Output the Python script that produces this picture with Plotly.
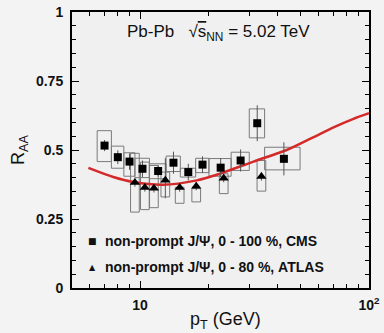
import plotly.graph_objects as go
import numpy as np

# CMS non-prompt J/psi, 0-100 %
cms_lo = [6.5, 7.5, 8.5, 9.5, 11, 13, 15, 17.5, 20, 25, 30, 35]
cms_hi = [7.5, 8.5, 9.5, 11, 13, 15, 17.5, 20, 25, 30, 35, 50]
cms_pt = [7.0, 8.0, 9.0, 10.25, 12.0, 14.0, 16.25, 18.75, 22.5, 27.5, 32.5, 42.5]
cms_raa = [0.516, 0.474, 0.458, 0.432, 0.424, 0.454, 0.420, 0.447, 0.436, 0.462, 0.597, 0.468]
cms_stat = [0.02, 0.025, 0.03, 0.03, 0.02, 0.04, 0.03, 0.03, 0.035, 0.04, 0.065, 0.06]
cms_sys_lo = [0.458, 0.434, 0.405, 0.400, 0.396, 0.422, 0.402, 0.418, 0.405, 0.426, 0.544, 0.428]
cms_sys_hi = [0.570, 0.514, 0.490, 0.470, 0.450, 0.478, 0.434, 0.470, 0.469, 0.492, 0.649, 0.510]

# ATLAS non-prompt J/psi, 0-80 %
atlas_pt = [9.5, 10.5, 11.5, 12.9, 14.9, 17.6, 23.2, 33.9]
atlas_raa = [0.382, 0.364, 0.361, 0.390, 0.364, 0.369, 0.398, 0.404]
atlas_stat_up = [0.015, 0.015, 0.015, 0.08, 0.015, 0.015, 0.015, 0.015]
atlas_stat_dn = [0.015, 0.015, 0.015, 0.065, 0.015, 0.015, 0.015, 0.015]
atlas_sys_lo = [0.275, 0.284, 0.291, 0.330, 0.307, 0.312, 0.342, 0.351]
atlas_sys_hi = [0.488, 0.456, 0.444, 0.420, 0.365, 0.360, 0.414, 0.462]

# model curve
model_pt = [5.95, 7.64, 9.35, 12.6, 17.7, 22.3, 31.3, 43.7, 57.0, 70.0, 85.0, 100.0]
model_raa = [0.435, 0.402, 0.384, 0.374, 0.390, 0.414, 0.458, 0.500, 0.546, 0.582, 0.612, 0.633]

fig = go.Figure()

box_col = "#7a7a7a"

# CMS systematic boxes
bx, by = [], []
for a, b, lo, hi in zip(cms_lo, cms_hi, cms_sys_lo, cms_sys_hi):
    bx += [a, b, b, a, a, None]
    by += [lo, lo, hi, hi, lo, None]
fig.add_trace(go.Scatter(x=bx, y=by, mode="lines", line=dict(color=box_col, width=1),
                         hoverinfo="skip", showlegend=False))

# ATLAS systematic boxes
ax_, ay_ = [], []
hw = 10 ** 0.019
for p, lo, hi in zip(atlas_pt, atlas_sys_lo, atlas_sys_hi):
    a, b = p / hw, p * hw
    ax_ += [a, b, b, a, a, None]
    ay_ += [lo, lo, hi, hi, lo, None]
fig.add_trace(go.Scatter(x=ax_, y=ay_, mode="lines", line=dict(color=box_col, width=1),
                         hoverinfo="skip", showlegend=False))

# model curve
fig.add_trace(go.Scatter(x=model_pt, y=model_raa, mode="lines",
                         line=dict(color="#d42a2a", width=2.5, shape="spline", smoothing=0.8),
                         showlegend=False))

# CMS points
fig.add_trace(go.Scatter(x=cms_pt, y=cms_raa, mode="markers",
                         marker=dict(symbol="square", size=8, color="black"),
                         error_y=dict(type="data", array=cms_stat, color="#555", thickness=1, width=0),
                         showlegend=False))

# ATLAS points
fig.add_trace(go.Scatter(x=atlas_pt, y=atlas_raa, mode="markers",
                         marker=dict(symbol="triangle-up", size=9, color="black"),
                         error_y=dict(type="data", symmetric=False, array=atlas_stat_up,
                                      arrayminus=atlas_stat_dn, color="#555", thickness=1, width=0),
                         showlegend=False))

W, H = 384, 333
L, R, T, B = 72, 15, 12, 45
pw, ph = W - L - R, H - T - B

def px(xp):
    return (xp - L) / pw

def py(yp):
    return (H - B - yp) / ph

FONT = "Arial, Liberation Sans"

def note(text, x, y, size, xanchor="center", bold=False, family=FONT, angle=0):
    return dict(text=text, x=px(x), y=py(y), xref="paper", yref="paper", showarrow=False,
                xanchor=xanchor, yanchor="middle", textangle=angle,
                font=dict(family=family, size=size, color="#111"))

ann = [
    note("Pb-Pb   √<span style='text-decoration:overline'>s</span><sub>NN</sub> = 5.02 TeV", 218, 33, 17),
    note("■", 92, 241, 9, family="DejaVu Sans"),
    note("▲", 92, 267, 8, family="DejaVu Sans"),
    note("<b>non-prompt J/Ψ, 0 - 100 %, CMS</b>", 103, 241, 14, xanchor="left"),
    note("<b>non-prompt J/Ψ, 0 - 80 %, ATLAS</b>", 103, 267, 14, xanchor="left"),
    note("p<sub>T</sub> (GeV)", 225, 320, 18),
    note("R<sub>AA</sub>", 19, 150, 18, angle=-90),
]

fig.update_layout(
    width=W, height=H,
    margin=dict(l=L, r=R, t=T, b=B),
    paper_bgcolor="#f3f3f3",
    plot_bgcolor="#f0f0f0",
    annotations=ann,
    font=dict(family=FONT, color="#111"),
)

fig.update_xaxes(
    type="log", range=[0.703, 2.0], automargin=False,
    showgrid=False, zeroline=False,
    showline=True, linecolor="black", linewidth=2, mirror="ticks",
    ticks="inside", ticklen=7, tickcolor="black", tickwidth=1,
    tickvals=[10, 100], ticktext=["<b>10</b>", "<b>10<sup>2</sup></b>"],
    tickfont=dict(size=14, family=FONT, color="#111"),
    ticklabelstandoff=3,
    minor=dict(ticks="inside", ticklen=4, tickcolor="black",
               tickvals=[6, 7, 8, 9, 20, 30, 40, 50, 60, 70, 80, 90]),
)
fig.update_yaxes(
    range=[0, 1], automargin=False,
    showgrid=False, zeroline=False,
    showline=True, linecolor="black", linewidth=2, mirror="ticks",
    ticks="inside", ticklen=7, tickcolor="black", tickwidth=1,
    tickvals=[0, 0.25, 0.5, 0.75, 1], ticktext=["<b>0</b>", "<b>0.25</b>", "<b>0.5</b>", "<b>0.75</b>", "<b>1</b>"],
    tickfont=dict(size=14, family=FONT, color="#111"),
    minor=dict(ticks="inside", ticklen=4, tickcolor="black", dtick=0.05),
    ticklabelstandoff=4,
)

fig.write_html("out.html")
